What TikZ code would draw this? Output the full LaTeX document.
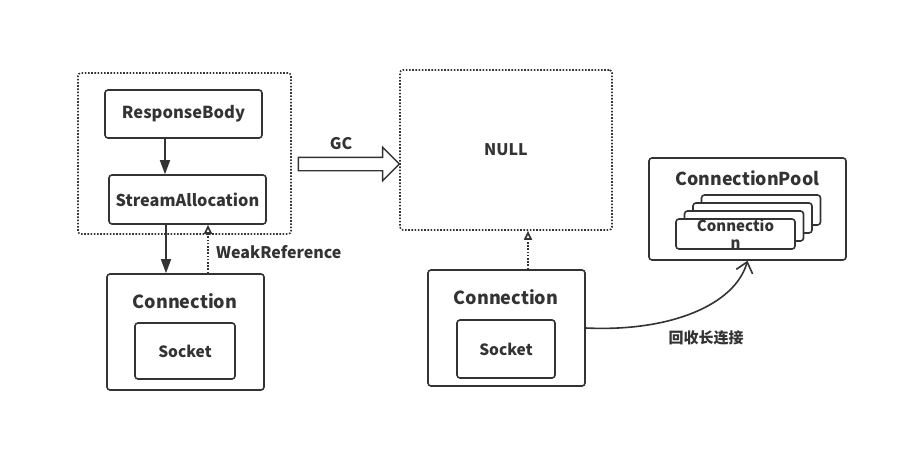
\documentclass[tikz,border=0pt]{standalone}
\usepackage{fontspec}
\setmainfont{Noto Sans CJK SC}
\usepackage{xcolor}
\usetikzlibrary{shapes, arrows.meta, positioning}
\definecolor{ink}{HTML}{333333}

\begin{document}
\begin{tikzpicture}[
  x=1pt, y=-1pt,
  every node/.style={text=ink, font=\bfseries},
  box/.style={rectangle, draw=ink, line width=1.6pt, rounded corners=3pt, inner sep=0pt},
  group/.style={rectangle, draw=ink, line width=1.6pt, dash pattern=on 1.6pt off 1.6pt, rounded corners=3pt, inner sep=0pt},
  ref/.style={draw=ink, line width=1.6pt, -{Triangle[length=14pt,width=10pt]}},
  weak/.style={draw=ink, line width=1.7pt, dash pattern=on 1.7pt off 1.5pt, -{Triangle[open,length=9pt,width=8pt,fill=white]}},
  fat/.style={single arrow, draw=ink, line width=1.4pt, fill=white, inner xsep=0pt, inner ysep=6pt,
    minimum height=101pt, single arrow head extend=10pt, shape border rotate=0}
]
\useasboundingbox (0,0) rectangle (908,452);

% left side: body and allocation inside the dotted group
\node[group, minimum width=213pt, minimum height=161pt] (outer) at (184.5,153.5) {};
\node[box, minimum width=157pt, minimum height=48pt, font=\bfseries\fontsize{16.5}{20}\selectfont] (body) at (183.5,114) {ResponseBody};
\node[box, minimum width=157pt, minimum height=49pt, font=\bfseries\fontsize{16.3}{19}\selectfont] (alloc) at (187.5,199.5) {StreamAllocation};

\node[box, minimum width=157pt, minimum height=116pt] (conn) at (185.5,332) {};
\node[font=\bfseries\fontsize{18}{21}\selectfont] (conntitle) at (185,301) {Connection};
\node[box, minimum width=100pt, minimum height=56pt, font=\bfseries\fontsize{15.5}{18}\selectfont] (socket) at (185,351) {Socket};

\draw[ref] ([xshift=-18.5pt]body.south) -- ([xshift=-18.5pt]body.south |- alloc.north);
\draw[ref] ([xshift=-21.5pt]alloc.south) -- ([xshift=-21.5pt]alloc.south |- conn.north);
\draw[weak] ([xshift=22.5pt]conn.north) -- node[midway, right=4pt, yshift=-3pt, font=\bfseries\fontsize{16}{19}\selectfont] (weaklabel) {WeakReference} ([xshift=22.5pt]conn.north |- alloc.south);

% GC step
\node[fat] (gc) at (345.5,164) {};
\node[font=\bfseries\fontsize{16}{19}\selectfont] (gclabel) at (341,144) {GC};

% right side
\node[group, minimum width=212pt, minimum height=160pt, font=\bfseries\fontsize{16}{19}\selectfont] (null) at (506,150) {NULL};

\node[box, minimum width=157pt, minimum height=116pt] (conn2) at (506.5,328) {};
\node[font=\bfseries\fontsize{18}{21}\selectfont] (conn2title) at (506,297) {Connection};
\node[box, minimum width=98pt, minimum height=58pt, font=\bfseries\fontsize{15.5}{18}\selectfont] (socket2) at (506,349) {Socket};

\draw[weak] ([xshift=21.5pt]conn2.north) -- ([xshift=21.5pt]conn2.north |- null.south);

% pool
\node[box, minimum width=197pt, minimum height=102pt] (pool) at (747.5,209) {};
\node[font=\bfseries\fontsize{17.8}{21}\selectfont] (pooltitle) at (747.5,178) {ConnectionPool};
\foreach \k in {3,2,1} {
  \node[box, fill=white, minimum width=119pt, minimum height=30pt] (pc\k) at (735.5+8.5*\k,234-8*\k) {};
}
\node[box, fill=white, minimum width=119pt, minimum height=30pt, align=center,
  font=\bfseries\fontsize{15}{18}\selectfont] (pc0) at (735.5,234) {Connectio\\[-1pt]n};

\draw[draw=ink, line width=1.6pt, -{Straight Barb[length=10pt,width=17pt]}]
  (conn2.east) .. controls (670,332) and (735,305) .. (pool.south);
\node[font=\bfseries\fontsize{15}{18}\selectfont] (recycle) at (706,338) {回收长连接};

\end{tikzpicture}
\end{document}
